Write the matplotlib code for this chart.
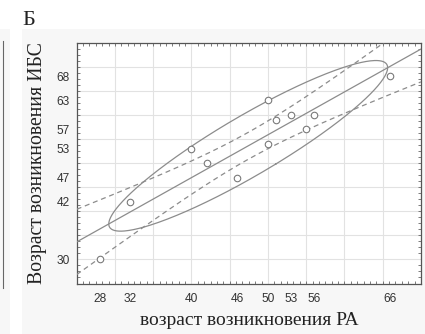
import numpy as np
import matplotlib
matplotlib.use("Agg")
import matplotlib.pyplot as plt
from matplotlib.patches import Rectangle
from matplotlib.ticker import MultipleLocator, FixedLocator

# ---- data ----
ra_onset = [28, 32, 40, 42, 46, 50, 50, 51, 53, 55, 56, 66]
ibs_onset = [30, 42, 53, 50, 47, 63, 54, 59, 60, 57, 60, 68]
x_ticklabels = [28, 32, 40, 46, 50, 53, 56, 66]
y_ticklabels = [30, 42, 47, 53, 57, 63, 68]
panel_label = "Б"
x_label = "возраст возникновения РА"
y_label = "Возраст возникновения ИБС"

T_CRIT = 2.228       # t(0.975, df=10)
ELLIPSE_K = 1.72     # ellipse size coefficient

W, H = 425, 334
fig = plt.figure(figsize=(W / 100, H / 100), dpi=100)
fig.patch.set_facecolor("white")

# background panels
fig.patches.append(Rectangle((22 / W, 0), 1, (H - 29) / H, transform=fig.transFigure,
                             facecolor="#f7f7f7", edgecolor="none", zorder=-5))
fig.patches.append(Rectangle((0, 0), 10 / W, (H - 29) / H, transform=fig.transFigure,
                             facecolor="#f7f7f7", edgecolor="none", zorder=-5))
fig.lines.append(plt.Line2D([3 / W, 3 / W], [(H - 288) / H, (H - 41) / H],
                            transform=fig.transFigure, color="#666666", lw=0.8, zorder=-4))

ax = fig.add_axes([76.7 / W, (H - 283.5) / H, (421 - 76.7) / W, (283.5 - 42.7) / H])
ax.set_facecolor("white")

x = np.array(ra_onset, float)
y = np.array(ibs_onset, float)
n = len(x)
mx, my = x.mean(), y.mean()
b, a = np.polyfit(x, y, 1)
xs = np.linspace(25, 70, 300)
yfit = a + b * xs
resid = y - (a + b * x)
s = np.sqrt((resid ** 2).sum() / (n - 2))
sxx = ((x - mx) ** 2).sum()
se = s * np.sqrt(1 / n + (xs - mx) ** 2 / sxx)

lc = "#8c8c8c"
ax.plot(xs, yfit, color=lc, lw=0.9, zorder=3)
ax.plot(xs, yfit + T_CRIT * se, color=lc, lw=0.9, ls=(0, (4, 3)), zorder=3)
ax.plot(xs, yfit - T_CRIT * se, color=lc, lw=0.9, ls=(0, (4, 3)), zorder=3)

# ellipse
cov = np.cov(x, y)
vals, vecs = np.linalg.eigh(cov)
t = np.linspace(0, 2 * np.pi, 400)
circ = np.vstack([np.cos(t), np.sin(t)])
pts = vecs @ (np.sqrt(vals)[:, None] * circ) * ELLIPSE_K
ax.plot(mx + pts[0], my + pts[1], color=lc, lw=0.9, zorder=3)

ax.scatter(x, y, s=22, facecolors="white", edgecolors="#7a7a7a", linewidths=0.8, zorder=4)

ax.set_xlim(25, 70)
ax.set_ylim(25, 75)

# grid at multiples of 5
for gx in range(30, 70, 5):
    ax.axvline(gx, color="#e2e2e2", lw=0.8, zorder=1)
for gy in range(30, 75, 5):
    ax.axhline(gy, color="#e2e2e2", lw=0.8, zorder=1)

ax.xaxis.set_major_locator(FixedLocator(x_ticklabels))
ax.yaxis.set_major_locator(FixedLocator(y_ticklabels))
ax.xaxis.set_minor_locator(MultipleLocator(5 / 6))
ax.yaxis.set_minor_locator(MultipleLocator(1.25))
ax.tick_params(which="major", length=0, labelsize=8.6, colors="#333333")
ax.tick_params(axis="x", which="major", pad=7)
ax.tick_params(axis="y", which="major", pad=5)
ax.tick_params(which="minor", direction="in", length=2.5, width=0.6, color="#666666",
               top=True, right=True, bottom=True, left=True)
for lab in ax.get_xticklabels() + ax.get_yticklabels():
    lab.set_fontfamily("Liberation Sans")

for sp in ax.spines.values():
    sp.set_color("#555555")
    sp.set_linewidth(0.9)

ax.set_xlabel(x_label, family="Liberation Serif", fontsize=14, color="#222222", labelpad=5)
ax.set_ylabel(y_label, family="Liberation Serif", fontsize=14.2, color="#222222", labelpad=7)

fig.text(22.5 / W, (H - 25) / H, panel_label, family="Liberation Serif", fontsize=16,
         color="#222222", ha="left", va="baseline")

fig.savefig("out.png", dpi=100, facecolor=fig.get_facecolor())
